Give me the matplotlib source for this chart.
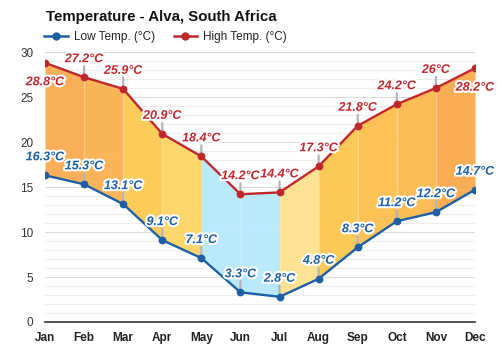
import matplotlib
matplotlib.use("Agg")
import matplotlib.pyplot as plt
import matplotlib.patheffects as pe
from matplotlib.lines import Line2D

plt.rcParams['font.family'] = ['Liberation Sans', 'DejaVu Sans']

months = ["Jan", "Feb", "Mar", "Apr", "May", "Jun", "Jul", "Aug", "Sep", "Oct", "Nov", "Dec"]
high = [28.8, 27.2, 25.9, 20.9, 18.4, 14.2, 14.4, 17.3, 21.8, 24.2, 26, 28.2]
low = [16.3, 15.3, 13.1, 9.1, 7.1, 3.3, 2.8, 4.8, 8.3, 11.2, 12.2, 14.7]
high_text = ["28.8°C", "27.2°C", "25.9°C", "20.9°C", "18.4°C", "14.2°C", "14.4°C",
             "17.3°C", "21.8°C", "24.2°C", "26°C", "28.2°C"]
low_text = ["16.3°C", "15.3°C", "13.1°C", "9.1°C", "7.1°C", "3.3°C", "2.8°C",
            "4.8°C", "8.3°C", "11.2°C", "12.2°C", "14.7°C"]

# colour of the band between month i and i+1
seg_colors = ['#f9a94a', '#faae4b', '#fcc84d', '#fdd45e', '#b3e8fa', '#b3e8fa',
              '#fde08a', '#fcc54a', '#fcbd48', '#fbb746', '#f9a646']

low_col = '#1d5fa6'
high_col = '#c0272d'

fig = plt.figure(figsize=(5, 3.5), dpi=100)
ax = fig.add_axes([0.09, 0.08, 0.86, 0.7714])

x = list(range(len(months)))

# grid every degree
for v in range(1, 30):
    c = '#dcdcdc' if v % 5 == 0 else '#ececec'
    ax.axhline(v, color=c, lw=0.8, zorder=0)
ax.axhline(30, color='#dcdcdc', lw=0.8, zorder=0)

for i in range(len(months) - 1):
    ax.fill_between(x[i:i + 2], low[i:i + 2], high[i:i + 2], color=seg_colors[i],
                    alpha=0.92, lw=0, zorder=1)
ax.vlines(x[1:-1], low[1:-1], high[1:-1], color='white', alpha=0.2, lw=1, zorder=1.5)

ax.plot(x, low, color=low_col, lw=1.7, marker='o', ms=4.6, zorder=3)
ax.plot(x, high, color=high_col, lw=1.7, marker='o', ms=4.6, zorder=3)

stroke = [pe.withStroke(linewidth=3, foreground='white')]

def label(xi, yi, txt, col, above, stem):
    if stem:
        ax.annotate('', xy=(xi, yi), xytext=(0, 8), textcoords='offset points',
                    arrowprops=dict(arrowstyle='-', color='#b5b5b5', lw=1.6,
                                    shrinkA=0, shrinkB=0), zorder=2)
    dy = 13 if above else -14
    ax.annotate(txt, xy=(xi, yi), xytext=(0, dy), textcoords='offset points',
                ha='center', va='center', fontsize=9, fontweight='bold',
                fontstyle='italic', color=col, path_effects=stroke,
                annotation_clip=False, zorder=5)

for i in x:
    edge = i == 0 or i == len(months) - 1
    label(i, high[i], high_text[i], high_col, not edge, not edge)
    label(i, low[i], low_text[i], low_col, True, not edge)

ax.set_xlim(0, 11)
ax.set_ylim(0, 30)
ax.set_yticks([0, 5, 10, 15, 20, 25, 30])
ax.set_xticks(x)
ax.set_xticklabels(months, fontweight='bold')
ax.tick_params(axis='x', length=0, pad=7, labelsize=8.5, labelcolor='#222222')
ax.tick_params(axis='y', length=0, pad=8.5, labelsize=8.5, labelcolor='#333333')
for s in ['top', 'right', 'left']:
    ax.spines[s].set_visible(False)
ax.spines['bottom'].set_color('#333333')
ax.spines['bottom'].set_linewidth(1.2)
ax.spines['bottom'].set_zorder(4)

fig.text(0.092, 1 - 17 / 350, "Temperature - Alva, South Africa", fontsize=10.8,
         fontweight='bold', ha='left', va='center', color='#111111')

handles = [Line2D([], [], color=low_col, lw=1.8, marker='o', ms=5),
           Line2D([], [], color=high_col, lw=1.8, marker='o', ms=5)]
fig.legend(handles, ["Low Temp. (°C)", "High Temp. (°C)"], loc='center left',
           bbox_to_anchor=(0.088, 1 - 37 / 350), ncol=2, frameon=False,
           fontsize=8.5, handlelength=2.0, handletextpad=0.5, columnspacing=1.6,
           borderpad=0, borderaxespad=0, labelcolor='#222222')

fig.savefig("out.png", dpi=100)
